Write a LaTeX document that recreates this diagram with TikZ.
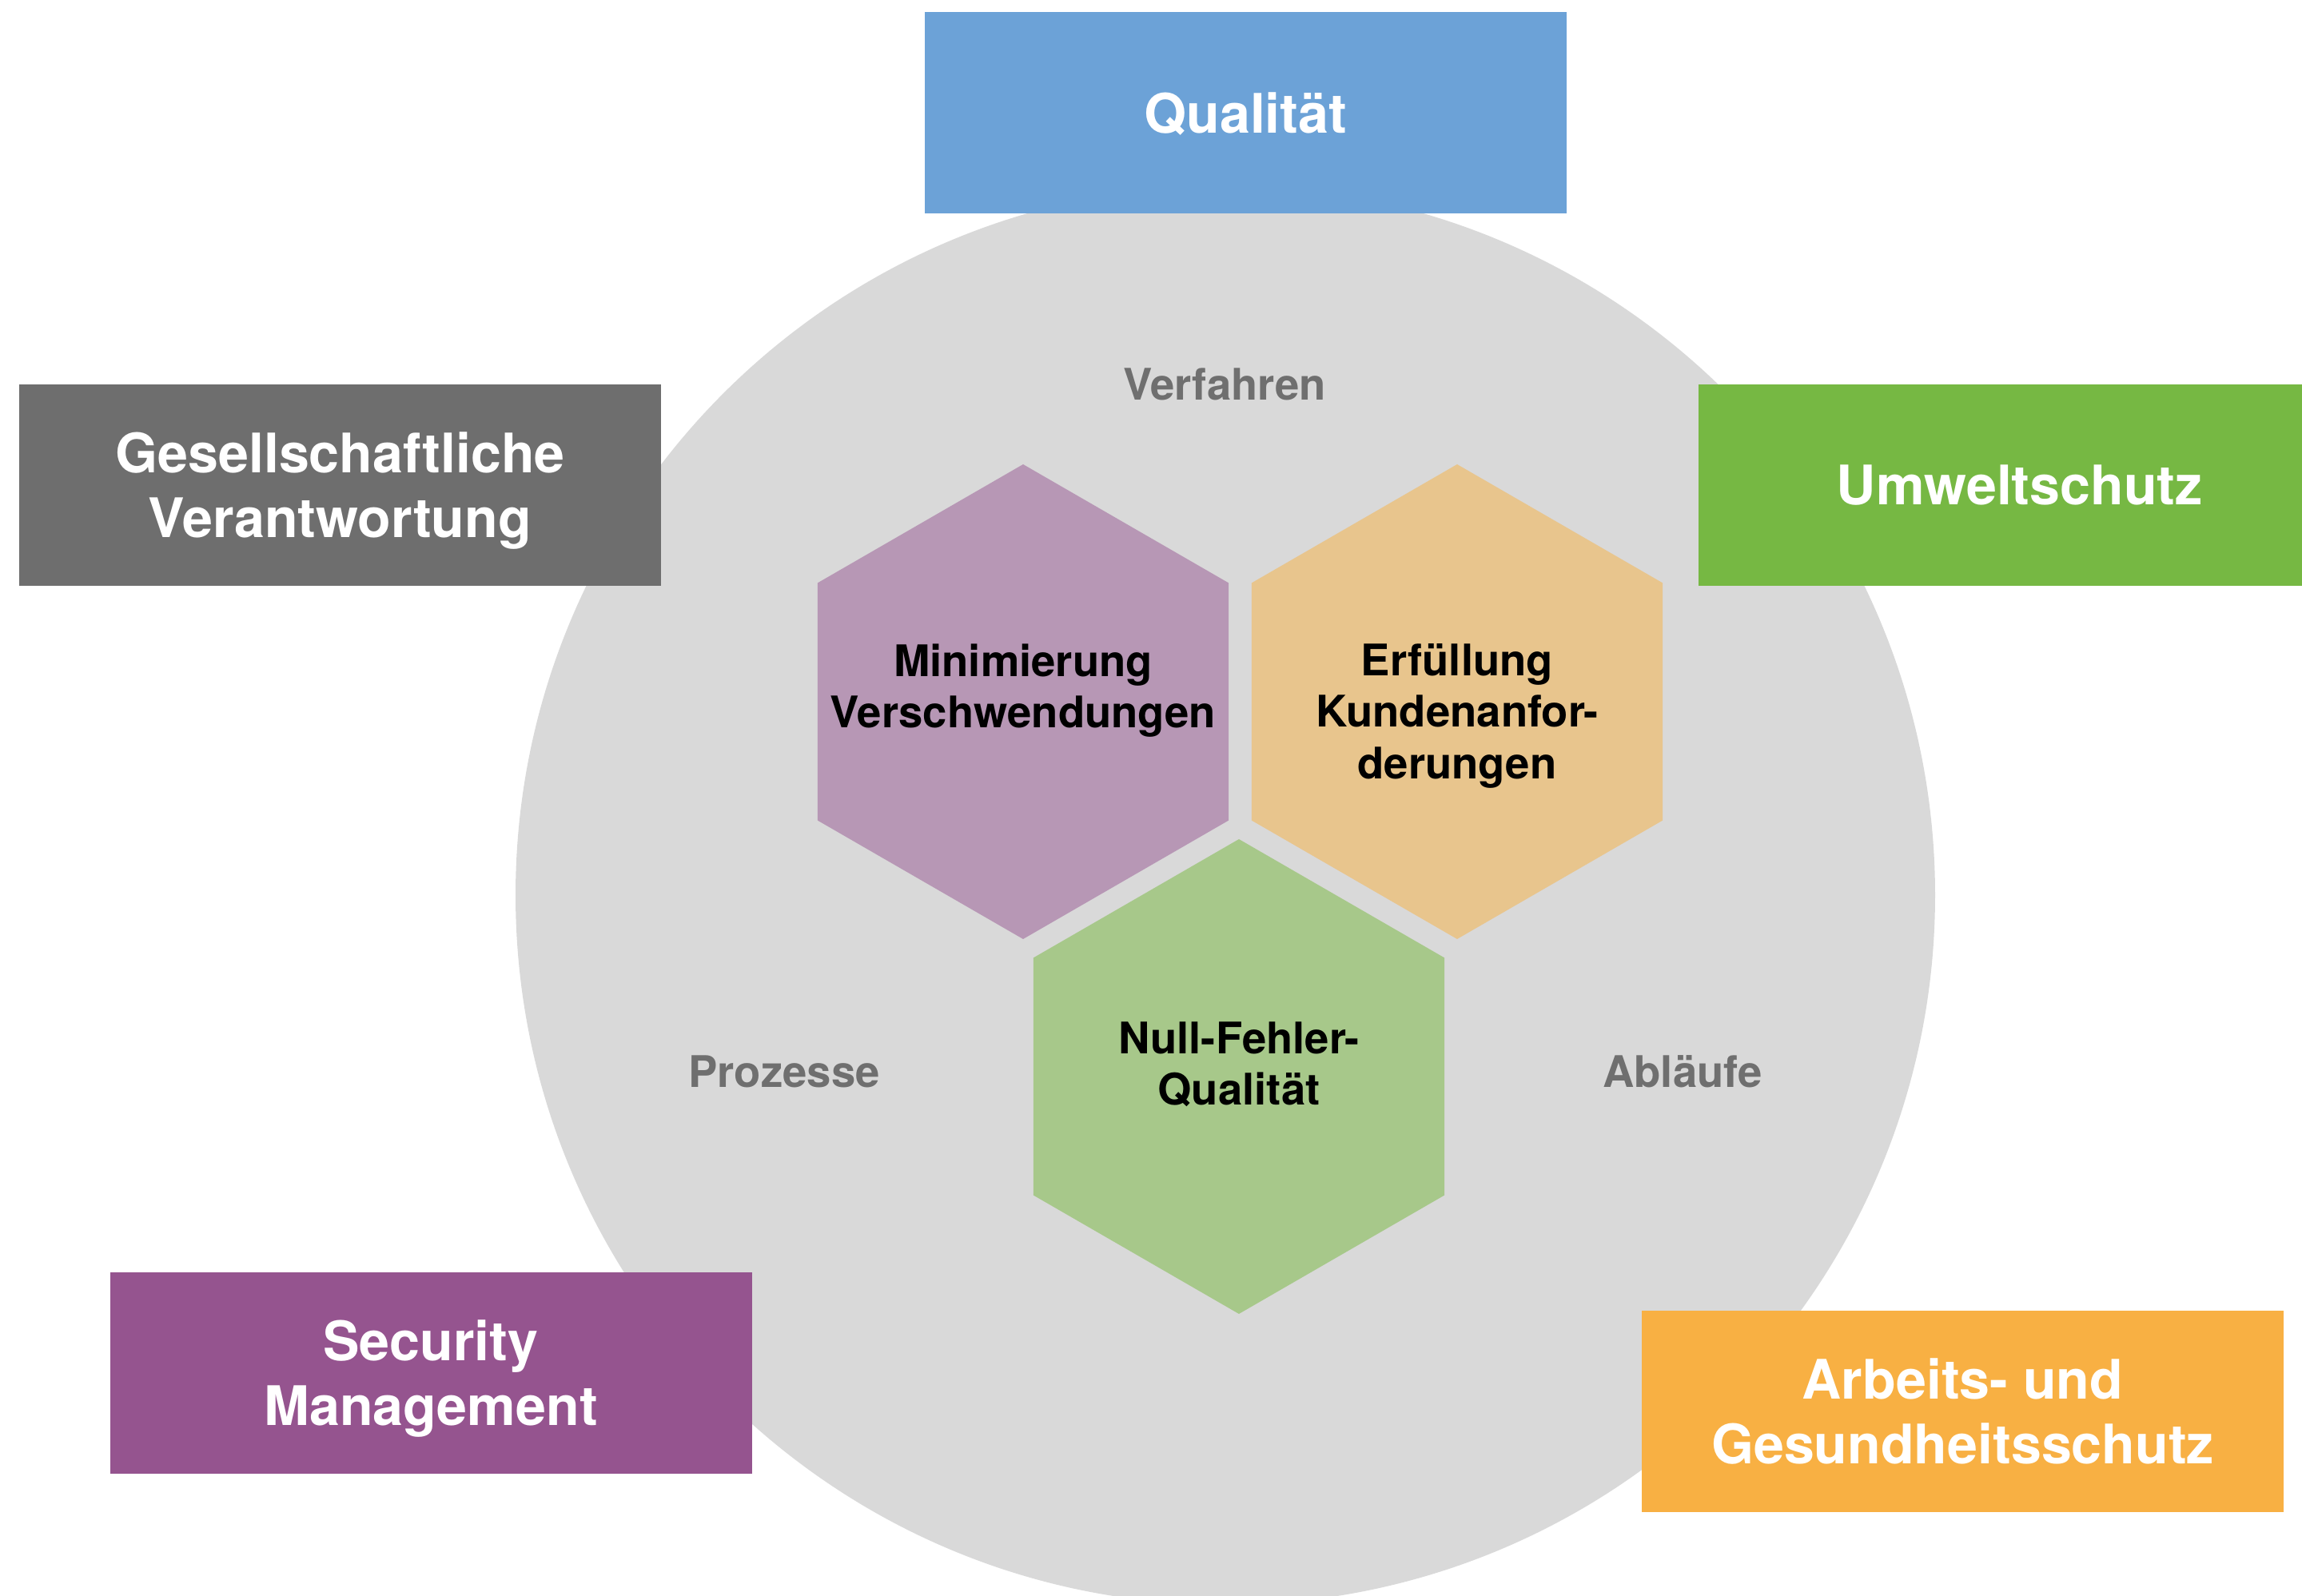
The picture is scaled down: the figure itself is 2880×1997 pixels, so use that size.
\documentclass[tikz,border=0pt]{standalone}
\usepackage{fontspec}
\setmainfont{TeX Gyre Heros}
\usepackage{tikz}
\usetikzlibrary{shapes.geometric}

\definecolor{ringgray}{HTML}{D9D9D9}
\definecolor{textgray}{HTML}{6F6F6F}
\definecolor{qualblue}{HTML}{6CA2D7}
\definecolor{socgray}{HTML}{6E6E6E}
\definecolor{envgreen}{HTML}{76B843}
\definecolor{secpurple}{HTML}{95548F}
\definecolor{ohsorange}{HTML}{F8B043}
\definecolor{hexpurple}{HTML}{B797B5}
\definecolor{hexorange}{HTML}{E8C58D}
\definecolor{hexgreen}{HTML}{A7C88A}

\begin{document}
\begin{tikzpicture}[x=0.1mm,y=-0.1mm,
    box_node/.style={rectangle,minimum width=80.3mm,minimum height=25.2mm,inner sep=0pt,text depth=0pt,text=white,align=center,font=\bfseries\fontsize{19.4}{23}\selectfont},
    hex_node/.style={regular polygon,regular polygon sides=6,shape border rotate=90,minimum size=59.4mm,inner sep=0pt},
    hex_text/.style={anchor=north,align=center,inner sep=0pt,text=black,font=\bfseries\fontsize{15.5}{18.3}\selectfont},
    side_label/.style={text=textgray,font=\bfseries\fontsize{15.5}{18}\selectfont}]

    \useasboundingbox (0,0) rectangle (2880,1997);

    % background disc
    \node[circle,fill=ringgray,minimum size=177.6mm,inner sep=0pt] (ring) at (1533,1120) {};

    \node[side_label] (verf) at (1532,481) {Verfahren};
    \node[side_label] (proz) at (981,1341) {Prozesse};
    \node[side_label] (abl) at (2105,1341) {Abläufe};

    % the three hexagons
    \node[hex_node,fill=hexpurple] (min_hex) at (1280,878) {};
    \node[hex_node,fill=hexorange] (erf_hex) at (1823,878) {};
    \node[hex_node,fill=hexgreen] (null_hex) at (1550,1347) {};

    \node[hex_text] (min_text) at ([yshift=7.3mm]min_hex.center) {Minimierung\\Verschwendungen};
    \node[hex_text] (erf_text) at ([yshift=7.3mm]erf_hex.center) {Erfüllung\\Kundenanfor-\\derungen};
    \node[hex_text] (null_text) at ([yshift=6.9mm]null_hex.center) {Null-Fehler-\\Qualität};

    % outer boxes
    \node[box_node,fill=qualblue] (qual) at (1558.5,141.5) {Qualität};
    \node[box_node,fill=socgray] (ges) at (425.5,607) {Gesellschaftliche\\Verantwortung};
    \node[box_node,fill=envgreen] (umw) at (2526.5,607) {Umweltschutz};
    \node[box_node,fill=secpurple] (sec) at (539,1718) {Security\\Management};
    \node[box_node,fill=ohsorange] (arb) at (2455.5,1766) {Arbeits- und\\Gesundheitsschutz};

\end{tikzpicture}
\end{document}
